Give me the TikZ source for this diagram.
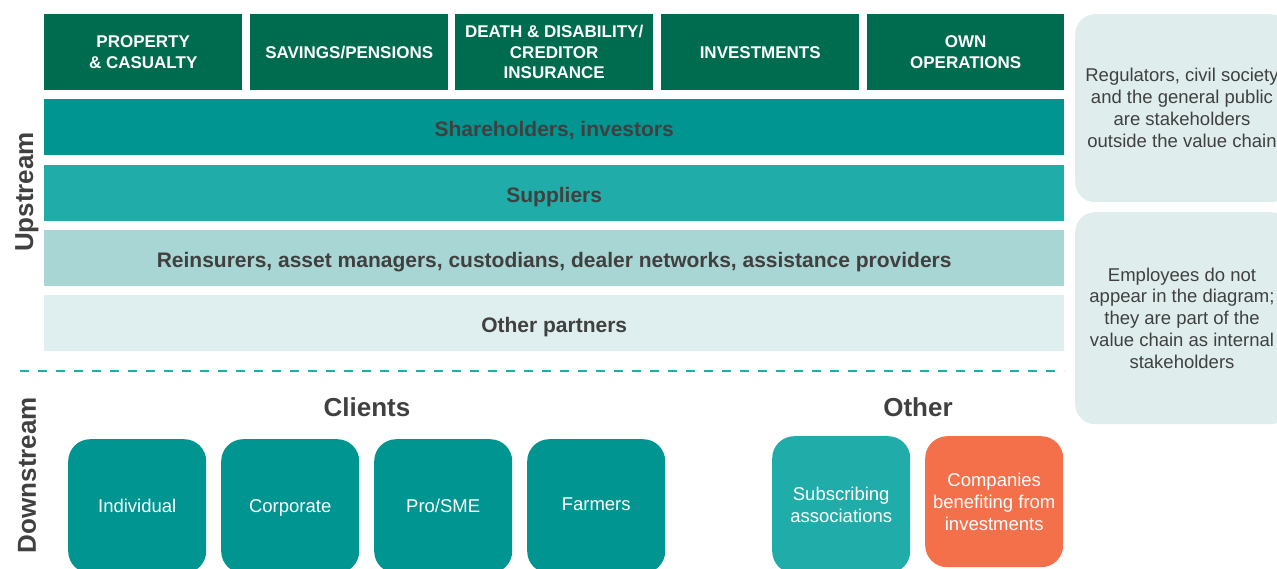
\documentclass[tikz,border=0pt]{standalone}
\usepackage{fontspec}
\setmainfont{Liberation Sans}
\definecolor{hdr}{HTML}{006C4F}
\definecolor{tealA}{HTML}{009590}
\definecolor{tealB}{HTML}{20ADA9}
\definecolor{tealC}{HTML}{A8D6D4}
\definecolor{tealD}{HTML}{DFEEEE}
\definecolor{note}{HTML}{DFEDED}
\definecolor{txt}{HTML}{404040}
\definecolor{orangeC}{HTML}{F3704B}
\begin{document}
\begin{tikzpicture}[x=1pt,y=-1pt,
  header/.style={fill=hdr, text=white, font=\fontsize{17}{20.5}\selectfont\bfseries,
    align=center, minimum width=198pt, minimum height=76pt, inner sep=0pt, anchor=north west},
  band/.style={minimum width=1020pt, minimum height=56pt, inner sep=0pt, anchor=north west,
    text height=20pt, text depth=2pt,
    text=txt, font=\fontsize{21}{25}\selectfont\bfseries},
  sidenote/.style={fill=note, rounded corners=20pt, minimum width=215pt, inner sep=0pt,
    anchor=north west},
  notetext/.style={text=txt, align=center, font=\fontsize{18.5}{21.8}\selectfont},
  tile/.style={rounded corners=22pt, minimum width=138pt, minimum height=134pt, inner sep=0pt,
    anchor=north west, text=white, align=center, font=\fontsize{18.5}{21.8}\selectfont},
  oneline/.style={text height=17.5pt, text depth=4pt},
  grouptitle/.style={text=txt, font=\fontsize{26}{30}\selectfont\bfseries},
  sidelabel/.style={text=txt, rotate=90, font=\fontsize{26}{30}\selectfont\bfseries},
  dashline/.style={draw=tealB, line width=2pt, dash pattern=on 9pt off 9pt}
]
\useasboundingbox (0,0) rectangle (1277,569);
\clip (0,0) rectangle (1277,569);

% business-line headers
\node[header] (pc)  at (44,14)  {PROPERTY\\\& CASUALTY};
\node[header] (sp)  at (250,14) {SAVINGS/PENSIONS};
\node[header] (dd)  at (455,14) {DEATH \& DISABILITY/\\CREDITOR\\INSURANCE};
\node[header] (inv) at (661,14) {INVESTMENTS};
\node[header, minimum width=197pt] (own) at (867,14) {OWN\\OPERATIONS};

% upstream bands
\node[band, fill=tealA] (share) at (44,99)  {Shareholders, investors};
\node[band, fill=tealB] (supp)  at (44,165) {Suppliers};
\node[band, fill=tealC] (reins) at (44,230) {Reinsurers, asset managers, custodians, dealer networks, assistance providers};
\node[band, fill=tealD] (partn) at (44,295) {Other partners};

% side notes
\node[sidenote, minimum height=188pt] (noteA) at (1075,14) {};
\node[notetext] (noteAtxt) at (1182,108) {Regulators, civil society\\and the general public\\are stakeholders\\outside the value chain};
\node[sidenote, minimum height=212pt] (noteB) at (1075,212) {};
\node[notetext] (noteBtxt) at (1182,318) {Employees do not\\appear in the diagram;\\they are part of the\\value chain as internal\\stakeholders};

% up/down separator
\coordinate (dashL) at (20,371);
\coordinate (dashR) at (1064,371);
\draw[dashline] (dashL) -- (dashR);

% side labels
\node[sidelabel] (up)   at (27,192) {Upstream};
\node[sidelabel] (down) at (27,475) {Downstream};

% downstream groups
\node[grouptitle] (clients) at (367,407) {Clients};
\node[grouptitle] (other)   at (918,407) {Other};

\node[tile, oneline, fill=tealA] (indiv) at (68,439)  {Individual};
\node[tile, oneline, fill=tealA] (corp)  at (221,439) {Corporate};
\node[tile, oneline, fill=tealA] (pro)   at (374,439) {Pro/SME};
\node[tile, oneline, fill=tealA, text height=13.5pt] (farm) at (527,439) {Farmers};

\node[tile, fill=tealB, minimum height=137pt] (subs) at (772,436) {Subscribing\\associations};
\node[tile, fill=orangeC, minimum height=131pt] (comp) at (925,436) {Companies\\benefiting from\\investments};
\end{tikzpicture}
\end{document}
